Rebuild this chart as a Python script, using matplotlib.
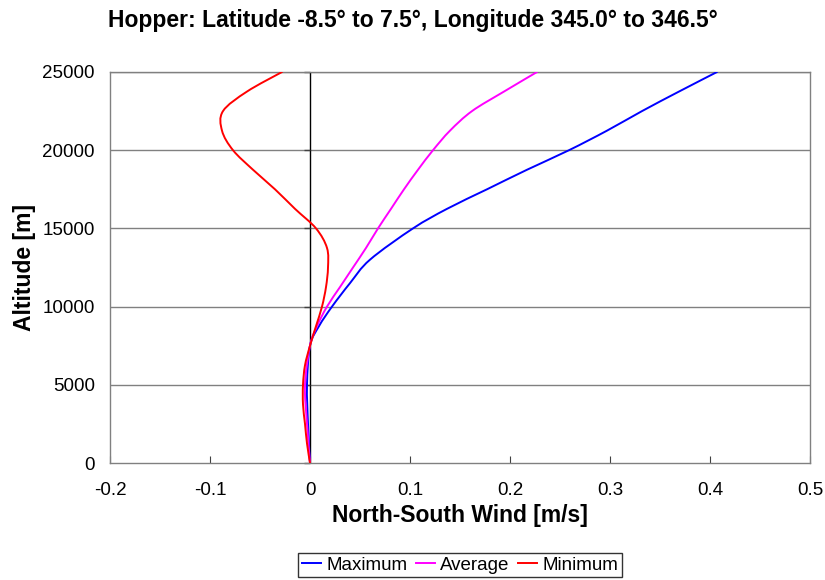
import numpy as np
import matplotlib
matplotlib.use("Agg")
import matplotlib.pyplot as plt
from matplotlib.lines import TICKLEFT, Line2D
from matplotlib.path import Path
from matplotlib.patches import PathPatch

plt.rcParams['font.family'] = ['Liberation Sans', 'DejaVu Sans']

alt_max = [0, 2500, 5000, 7500, 8750, 10000, 11500, 13000, 15000, 16250,
           17500, 18750, 20000, 21250, 22500, 23750, 25000]
wind_max = [0.0, -0.002, -0.003, 0.0, 0.009, 0.022, 0.040, 0.060, 0.103, 0.137,
            0.177, 0.217, 0.259, 0.297, 0.332, 0.369, 0.407]

alt_avg = [0, 2500, 5000, 7500, 8750, 10000, 11250, 12500, 13750, 15000, 16250, 17500,
           18750, 20000, 21250, 22500, 23750, 25000]
wind_avg = [0.0, -0.003, -0.005, 0.0, 0.007, 0.017, 0.030, 0.043, 0.056, 0.068, 0.081, 0.094,
            0.108, 0.123, 0.140, 0.162, 0.194, 0.227]

alt_min = [0, 1250, 2500, 3750, 5000, 6250, 7500, 8750, 10000, 11250, 12500, 13750,
           15000, 16250, 17500, 18750, 20000, 21250, 22500, 23750, 25000]
wind_min = [0.0, -0.003, -0.005, -0.007, -0.007, -0.005, 0.0, 0.006, 0.012, 0.016, 0.018, 0.017,
            0.006, -0.015, -0.035, -0.057, -0.077, -0.088, -0.087, -0.063, -0.028]

series_names = ['Maximum', 'Average', 'Minimum']
series_colors = ['#0000ff', '#ff00ff', '#ff0000']

xticks = [-0.2, -0.1, 0, 0.1, 0.2, 0.3, 0.4, 0.5]
xticklabels = ['-0.2', '-0.1', '0', '0.1', '0.2', '0.3', '0.4', '0.5']
yticks = [0, 5000, 10000, 15000, 20000, 25000]


def smooth_path(xs, ys):
    """Excel-like smoothed line: Catmull-Rom segments drawn as cubic Beziers."""
    p = np.column_stack([xs, ys]).astype(float)
    n = len(p)
    verts = [p[0]]
    codes = [Path.MOVETO]
    for i in range(n - 1):
        p0 = p[i - 1] if i > 0 else p[i]
        p1 = p[i]
        p2 = p[i + 1]
        p3 = p[i + 2] if i + 2 < n else p[i + 1]
        c1 = p1 + (p2 - p0) / 6.0
        c2 = p2 - (p3 - p1) / 6.0
        verts += [c1, c2, p2]
        codes += [Path.CURVE4] * 3
    return Path(verts, codes)


fig = plt.figure(figsize=(8.25, 5.8), dpi=100)
ax = fig.add_axes([110/825, 1-463/580, 700/825, 391/580])

for y in yticks[1:]:
    ax.axhline(y, color='#808080', lw=1.0, zorder=1)
ax.axvline(0, color='black', lw=1.0, zorder=2)
ax.plot([0]*len(yticks), yticks, linestyle='none', marker=TICKLEFT, color='#404040',
        markersize=4, markeredgewidth=1.0, zorder=2, clip_on=False)

handles = []
for (xs, ys), name, col, z in zip([(wind_max, alt_max), (wind_avg, alt_avg), (wind_min, alt_min)],
                                  series_names, series_colors, [3, 3, 4]):
    ax.add_patch(PathPatch(smooth_path(xs, ys), facecolor='none', edgecolor=col, lw=1.4,
                           zorder=z, capstyle='round', joinstyle='round'))
    handles.append(Line2D([], [], color=col, lw=1.4, label=name))

ax.set_xlim(-0.2, 0.5)
ax.set_ylim(0, 25000)
ax.set_xticks(xticks)
ax.set_xticklabels(xticklabels)
ax.set_yticks(yticks)
ax.tick_params(axis='x', direction='in', length=5, color='#404040', labelsize=13.5, pad=14)
ax.tick_params(axis='y', length=0, labelsize=13.5, pad=11)
for s in ax.spines.values():
    s.set_color('#808080')
    s.set_linewidth(1.0)

ax.set_xlabel('North-South Wind [m/s]', fontsize=16.5, fontweight='bold')
ax.xaxis.set_label_coords(0.5, (463-504)/391)
ax.set_ylabel('Altitude [m]', fontsize=16.5, fontweight='bold')
ax.yaxis.set_label_coords((36-110)/700, 0.5)

fig.text(0.5, 1-20/580, 'Hopper: Latitude -8.5° to 7.5°, Longitude 345.0° to 346.5°',
         ha='center', va='center', fontsize=16.5, fontweight='bold')

leg = fig.legend(handles=handles, loc='center', bbox_to_anchor=(460/825, 1-565/580), ncol=3,
                 fontsize=13.5, frameon=True, fancybox=False, edgecolor='black',
                 handlelength=1.0, handletextpad=0.3, columnspacing=0.45,
                 borderpad=0.2, borderaxespad=0)
leg.get_frame().set_linewidth(1.0)

fig.savefig('out.png', dpi=100)
